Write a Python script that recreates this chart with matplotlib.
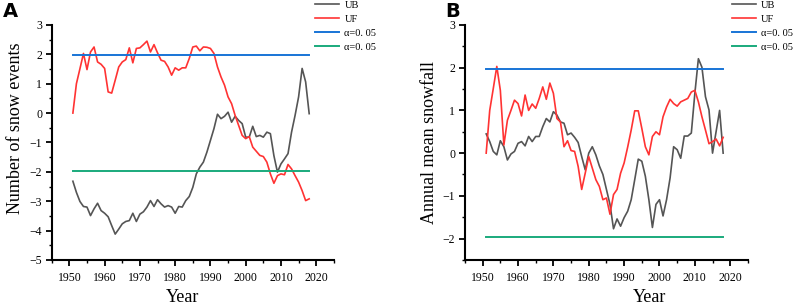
import numpy as np
import matplotlib
matplotlib.use('Agg')
from matplotlib import pyplot as plt
from matplotlib.ticker import MultipleLocator

years = np.arange(1951, 2019)

# panel A: number of snow events
uf_a = [0.0, 1.0, 1.51, 2.03, 1.48, 2.08, 2.25, 1.74, 1.66, 1.52,
        0.72, 0.68, 1.12, 1.57, 1.74, 1.82, 2.22, 1.71, 2.2, 2.22,
        2.33, 2.45, 2.08, 2.33, 2.05, 1.8, 1.76, 1.57, 1.29, 1.54,
        1.46, 1.54, 1.54, 1.86, 2.25, 2.28, 2.12, 2.25, 2.24, 2.2,
        2.03, 1.57, 1.23, 0.95, 0.55, 0.32, -0.08, -0.42, -0.76, -0.87,
        -0.8, -1.16, -1.3, -1.44, -1.48, -1.67, -2.07, -2.39, -2.13, -2.07,
        -2.1, -1.75, -1.9, -2.13, -2.35, -2.64, -2.98, -2.92]
ub_a = [-2.32, -2.7, -3.01, -3.18, -3.2, -3.49, -3.26, -3.07, -3.32, -3.41,
        -3.53, -3.83, -4.12, -3.95, -3.77, -3.69, -3.66, -3.41, -3.69, -3.44,
        -3.36, -3.2, -2.98, -3.18, -2.95, -3.09, -3.2, -3.15, -3.2, -3.41,
        -3.18, -3.2, -2.98, -2.84, -2.53, -2.07, -1.84, -1.67, -1.33, -0.93,
        -0.53, -0.04, -0.19, -0.11, 0.03, -0.31, -0.11, -0.25, -0.36, -0.82,
        -0.82, -0.45, -0.8, -0.76, -0.82, -0.65, -0.7, -1.45, -2.01, -1.73,
        -1.56, -1.38, -0.65, -0.08, 0.55, 1.52, 1.06, -0.02]

# panel B: annual mean snowfall
uf_b = [0.0, 1.0, 1.51, 2.03, 1.47, 0.19, 0.77, 1.0, 1.24, 1.16,
        0.87, 1.36, 1.0, 1.15, 1.05, 1.28, 1.55, 1.26, 1.64, 1.4,
        0.81, 0.73, 0.15, 0.29, 0.06, 0.04, -0.31, -0.85, -0.47, -0.08,
        -0.35, -0.62, -0.78, -1.09, -1.05, -1.43, -0.97, -0.85, -0.47, -0.23,
        0.14, 0.54, 0.99, 0.99, 0.58, 0.15, -0.04, 0.39, 0.5, 0.43,
        0.85, 1.08, 1.26, 1.16, 1.1, 1.2, 1.24, 1.28, 1.43, 1.47,
        1.2, 0.85, 0.54, 0.22, 0.27, 0.33, 0.17, 0.37]
ub_b = [0.45, 0.27, 0.04, -0.04, 0.29, 0.15, -0.16, -0.02, 0.04, 0.23,
        0.27, 0.17, 0.39, 0.27, 0.39, 0.39, 0.62, 0.81, 0.73, 0.97,
        0.89, 0.73, 0.7, 0.43, 0.47, 0.37, 0.25, -0.08, -0.39, 0.0,
        0.15, -0.04, -0.3, -0.5, -0.85, -1.2, -1.77, -1.54, -1.71, -1.51,
        -1.36, -1.09, -0.62, -0.14, -0.19, -0.54, -1.09, -1.74, -1.2, -1.09,
        -1.47, -1.09, -0.58, 0.15, 0.08, -0.12, 0.4, 0.4, 0.47, 1.4,
        2.21, 2.01, 1.32, 1.01, 0.0, 0.5, 1.0, 0.0]

crit = 1.96
labels = ['UB', 'UF', 'α=0. 05', 'α=0. 05']
c_ub, c_uf, c_hi, c_lo = '#555555', '#ff3333', '#1874d6', '#1aaa7c'

plt.rcParams['font.family'] = ['Liberation Serif', 'DejaVu Serif']

fig = plt.figure(figsize=(7.97, 3.08), dpi=100)
ax_a = fig.add_axes([0.0649, 0.156, 0.354, 0.763])
ax_b = fig.add_axes([0.5834, 0.156, 0.355, 0.763])

panels = [
    (ax_a, ub_a, uf_a, 'Number of snow events', (-5, 3), (0.464, -0.125), (-0.10, 0.56), 0.934),
    (ax_b, ub_b, uf_b, 'Annual mean snowfall', (-2.5, 3), (0.654, -0.125), (-0.095, 0.50), 0.943),
]

for ax, ub, uf, ylab, ylim, xl, yl, lx in panels:
    ax.plot(years, ub, c=c_ub, lw=1.2, label=labels[0])
    ax.plot(years, uf, c=c_uf, lw=1.2, label=labels[1])
    ax.plot([years[0], years[-1]], [crit, crit], c=c_hi, lw=1.4, label=labels[2])
    ax.plot([years[0], years[-1]], [-crit, -crit], c=c_lo, lw=1.4, label=labels[3])
    ax.set_xlim(1945, 2025)
    ax.set_ylim(*ylim)
    ax.xaxis.set_major_locator(MultipleLocator(10))
    ax.xaxis.set_minor_locator(MultipleLocator(5))
    ax.yaxis.set_major_locator(MultipleLocator(1))
    ax.yaxis.set_minor_locator(MultipleLocator(0.5))
    for s in ('top', 'right'):
        ax.spines[s].set_visible(False)
    for s in ('left', 'bottom'):
        ax.spines[s].set_linewidth(1.5)
    ax.tick_params(which='major', length=4, width=1.3, labelsize=8.5, pad=3)
    ax.tick_params(which='minor', length=2, width=1.0)
    ax.tick_params(axis='x', pad=5)
    ax.set_xlabel('Year', fontsize=13)
    ax.xaxis.set_label_coords(*xl)
    ax.set_ylabel(ylab, fontsize=13)
    ax.yaxis.set_label_coords(*yl)
    ax.legend(loc='upper left', bbox_to_anchor=(lx, 1.105), frameon=False, fontsize=7.5,
              handlelength=2.3, handletextpad=0.5, labelspacing=0.45, borderpad=0, borderaxespad=0)

fig.text(0.004, 0.995, 'A', fontsize=14, fontweight='bold', family='DejaVu Sans', va='top')
fig.text(0.559, 0.995, 'B', fontsize=14, fontweight='bold', family='DejaVu Sans', va='top')

fig.savefig('out.png', dpi=100)
